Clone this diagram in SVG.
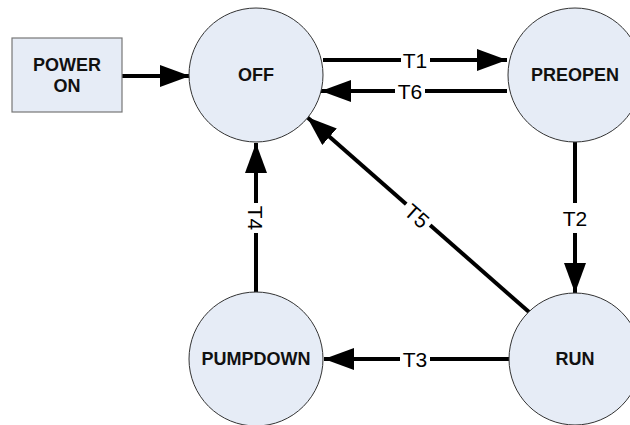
<svg xmlns="http://www.w3.org/2000/svg" width="630" height="425" viewBox="0 0 630 425">
<defs>
<style>
.node{fill:#e6ecf6;stroke:#333;stroke-width:1}
.box{fill:#e6ecf6;stroke:#777;stroke-width:1.2}
.nl{font-family:"Liberation Sans",Arial,sans-serif;font-weight:bold;font-size:18px;fill:#111;text-anchor:middle;dominant-baseline:central}
.el{font-family:"Liberation Sans",Arial,sans-serif;font-size:21px;fill:#000;text-anchor:middle;dominant-baseline:central}
.ln{stroke:#000;stroke-width:4;fill:none}
.bg{fill:#fff}
</style>
<marker id="ah" markerUnits="userSpaceOnUse" markerWidth="30" markerHeight="22" viewBox="0 0 30 22" refX="30" refY="11" orient="auto">
<path d="M0,0 L30,11 L0,22 Z" fill="#000"/>
</marker>
</defs>
<rect width="630" height="425" fill="#fff"/>
<g id="connectors">
<line class="ln" x1="122" y1="76" x2="190" y2="76" marker-end="url(#ah)"/>
<line class="ln" x1="323" y1="60" x2="507" y2="60" marker-end="url(#ah)"/>
<line class="ln" x1="507" y1="91" x2="321" y2="91" marker-end="url(#ah)"/>
<line class="ln" x1="575" y1="142" x2="575" y2="293" marker-end="url(#ah)"/>
<line class="ln" x1="510" y1="359" x2="324" y2="359" marker-end="url(#ah)"/>
<line class="ln" x1="256" y1="293" x2="256" y2="143" marker-end="url(#ah)"/>
<line class="ln" x1="529" y1="312" x2="307" y2="117" marker-end="url(#ah)"/>
<rect class="bg" x="401" y="48" width="29" height="24"/>
<text class="el" x="415" y="60">T1</text>
<rect class="bg" x="395" y="79" width="30" height="24"/>
<text class="el" x="410" y="91">T6</text>
<rect class="bg" x="561" y="203" width="28" height="30"/>
<text class="el" x="575" y="218">T2</text>
<rect class="bg" x="400" y="347" width="30" height="24"/>
<text class="el" x="415" y="359">T3</text>
<g transform="translate(255,218) rotate(90)">
<rect class="bg" x="-15" y="-11" width="30" height="22"/>
<text class="el" x="0" y="0">T4</text>
</g>
<g transform="translate(417,216) rotate(41.3)">
<rect class="bg" x="-16" y="-11" width="32" height="22"/>
<text class="el" x="0" y="0">T5</text>
</g>
</g>
<g id="power-on">
<rect class="box" x="12" y="38" width="110" height="74"/>
<text class="nl" x="67" y="65">POWER</text>
<text class="nl" x="67" y="86">ON</text>
</g>
<g id="off">
<circle class="node" cx="256" cy="75" r="67"/>
<text class="nl" x="256" y="75">OFF</text>
</g>
<g id="preopen">
<circle class="node" cx="575" cy="75" r="67"/>
<text class="nl" x="575" y="75">PREOPEN</text>
</g>
<g id="run">
<circle class="node" cx="575" cy="359" r="66"/>
<text class="nl" x="575" y="359">RUN</text>
</g>
<g id="pumpdown">
<circle class="node" cx="256" cy="359" r="67"/>
<text class="nl" x="256" y="359">PUMPDOWN</text>
</g>
</svg>
